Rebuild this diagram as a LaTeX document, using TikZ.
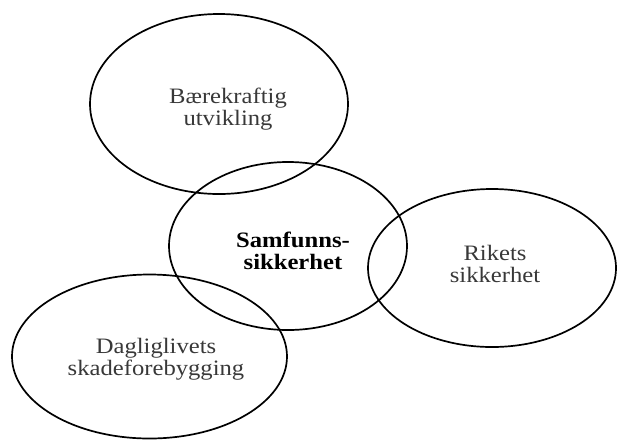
\documentclass[tikz,border=0pt]{standalone}
\usepackage{fontspec}
\setmainfont{Liberation Serif}[FakeStretch=1.12]
\begin{document}
\begin{tikzpicture}[x=1pt,y=-1pt,
  ring/.style={draw=black,line width=1.7pt},
  lbl/.style={align=center,inner sep=0pt,text=black!78,font=\fontsize{22}{22}\selectfont},
  lblb/.style={align=center,inner sep=0pt,text=black,font=\fontsize{22}{22}\selectfont\bfseries}]
\useasboundingbox (0,0) rectangle (618,440);
\draw[ring] (219,104) ellipse [x radius=129, y radius=90];
\draw[ring] (288,246) ellipse [x radius=119, y radius=84];
\draw[ring] (492,268) ellipse [x radius=124, y radius=79];
\draw[ring] (149.5,356.5) ellipse [x radius=137.5, y radius=82];
\node[lbl] (b) at (228,109) {Bærekraftig\\utvikling};
\node[lblb] (s) at (293,251) {Samfunns-\\sikkerhet};
\node[lbl] (r) at (495,264) {Rikets\\sikkerhet};
\node[lbl] (d) at (156,359) {Dagliglivets\\skadeforebygging};
\end{tikzpicture}
\end{document}
